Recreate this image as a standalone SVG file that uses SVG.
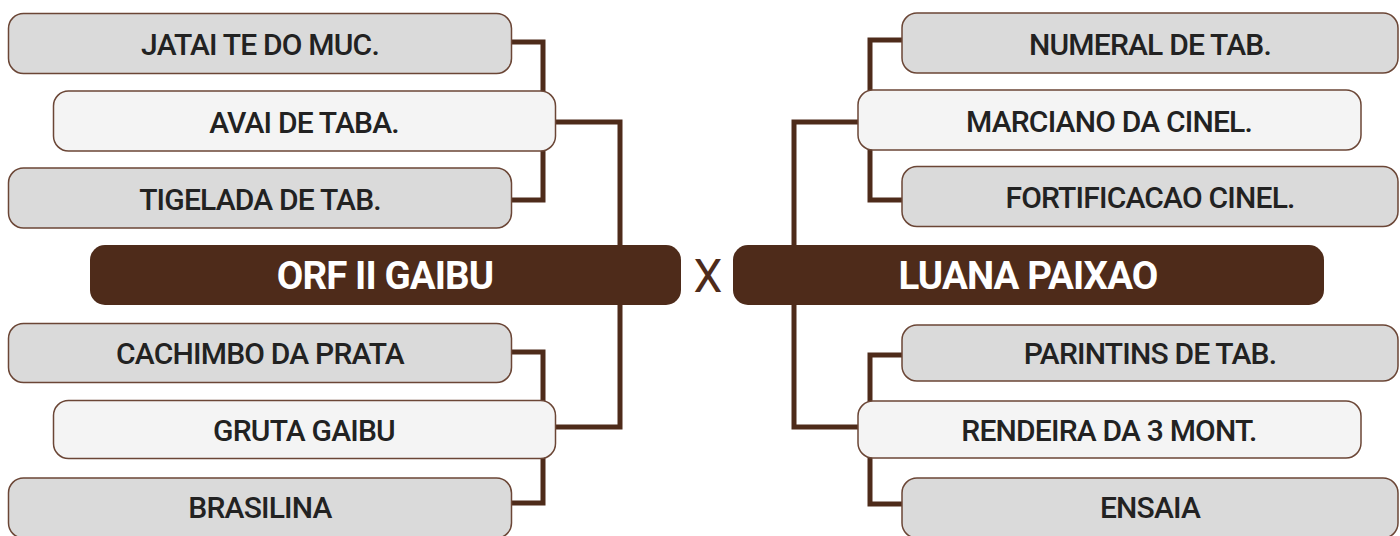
<svg xmlns="http://www.w3.org/2000/svg" width="1400" height="536" viewBox="0 0 1400 536">
<style>
.outer{fill:#dadada;stroke:#6b4636;stroke-width:1.5}
.inner{fill:#f4f4f4;stroke:#6b4636;stroke-width:1.5}
.bar{fill:#4e2b1a}
.lbl{font-family:Roboto,"Liberation Sans",sans-serif;font-weight:500;font-size:30px;fill:#222;text-anchor:middle;letter-spacing:-0.8px}
.big{font-family:Roboto,"Liberation Sans",sans-serif;font-weight:700;font-size:38.5px;fill:#fff;text-anchor:middle;letter-spacing:-0.9px}
.vs{font-family:Roboto,"Liberation Sans",sans-serif;font-weight:400;font-size:46px;fill:#4e2b1a;text-anchor:middle}
.con{fill:none;stroke:#4e2b1a;stroke-width:5;stroke-linejoin:miter}
</style>
<g id="connectors">
<path class="con" d="M512 42 H543 V200 H512"/>
<path class="con" d="M555 122 H620 V427 H555"/>
<path class="con" d="M512 352 H543 V503 H512"/>
<path class="con" d="M902 40 H870 V200 H902"/>
<path class="con" d="M858 122 H794 V427 H858"/>
<path class="con" d="M902 355 H870 V504 H902"/>
</g>
<g id="n-jatai"><rect class="outer" x="8.5" y="13.5" width="503" height="60" rx="15"/><text class="lbl" x="260" y="55">JATAI TE DO MUC.</text></g>
<g id="n-avai"><rect class="inner" x="53.5" y="91" width="502" height="60" rx="15"/><text class="lbl" x="304" y="132.5">AVAI DE TABA.</text></g>
<g id="n-tigelada"><rect class="outer" x="8.5" y="168" width="503" height="60" rx="15"/><text class="lbl" x="260" y="209.5">TIGELADA DE TAB.</text></g>
<g id="n-orf"><rect class="bar" x="90" y="245" width="591" height="60" rx="15"/><text class="big" x="385" y="289">ORF II GAIBU</text></g>
<g id="n-cachimbo"><rect class="outer" x="8.5" y="323.5" width="503" height="59" rx="15"/><text class="lbl" x="260" y="364">CACHIMBO DA PRATA</text></g>
<g id="n-gruta"><rect class="inner" x="53.5" y="400.5" width="502" height="58" rx="15"/><text class="lbl" x="304" y="440.5">GRUTA GAIBU</text></g>
<g id="n-brasilina"><rect class="outer" x="8.5" y="478" width="503" height="60" rx="15"/><text class="lbl" x="260" y="518">BRASILINA</text></g>
<g id="n-x"><text class="vs" x="708" y="292">X</text></g>
<g id="n-numeral"><rect class="outer" x="902" y="13" width="496" height="60" rx="15"/><text class="lbl" x="1150" y="54.5">NUMERAL DE TAB.</text></g>
<g id="n-marciano"><rect class="inner" x="858" y="90" width="503" height="60" rx="15"/><text class="lbl" x="1109" y="131.5">MARCIANO DA CINEL.</text></g>
<g id="n-fortificacao"><rect class="outer" x="902" y="166.5" width="496" height="60" rx="15"/><text class="lbl" x="1150" y="208">FORTIFICACAO CINEL.</text></g>
<g id="n-luana"><rect class="bar" x="733" y="245" width="591" height="60" rx="15"/><text class="big" x="1028" y="289">LUANA PAIXAO</text></g>
<g id="n-parintins"><rect class="outer" x="902" y="325" width="496" height="56" rx="15"/><text class="lbl" x="1150" y="364">PARINTINS DE TAB.</text></g>
<g id="n-rendeira"><rect class="inner" x="858" y="401" width="503" height="57" rx="15"/><text class="lbl" x="1109" y="440.5">RENDEIRA DA 3 MONT.</text></g>
<g id="n-ensaia"><rect class="outer" x="902" y="478" width="496" height="60" rx="15"/><text class="lbl" x="1150" y="518">ENSAIA</text></g>
</svg>
